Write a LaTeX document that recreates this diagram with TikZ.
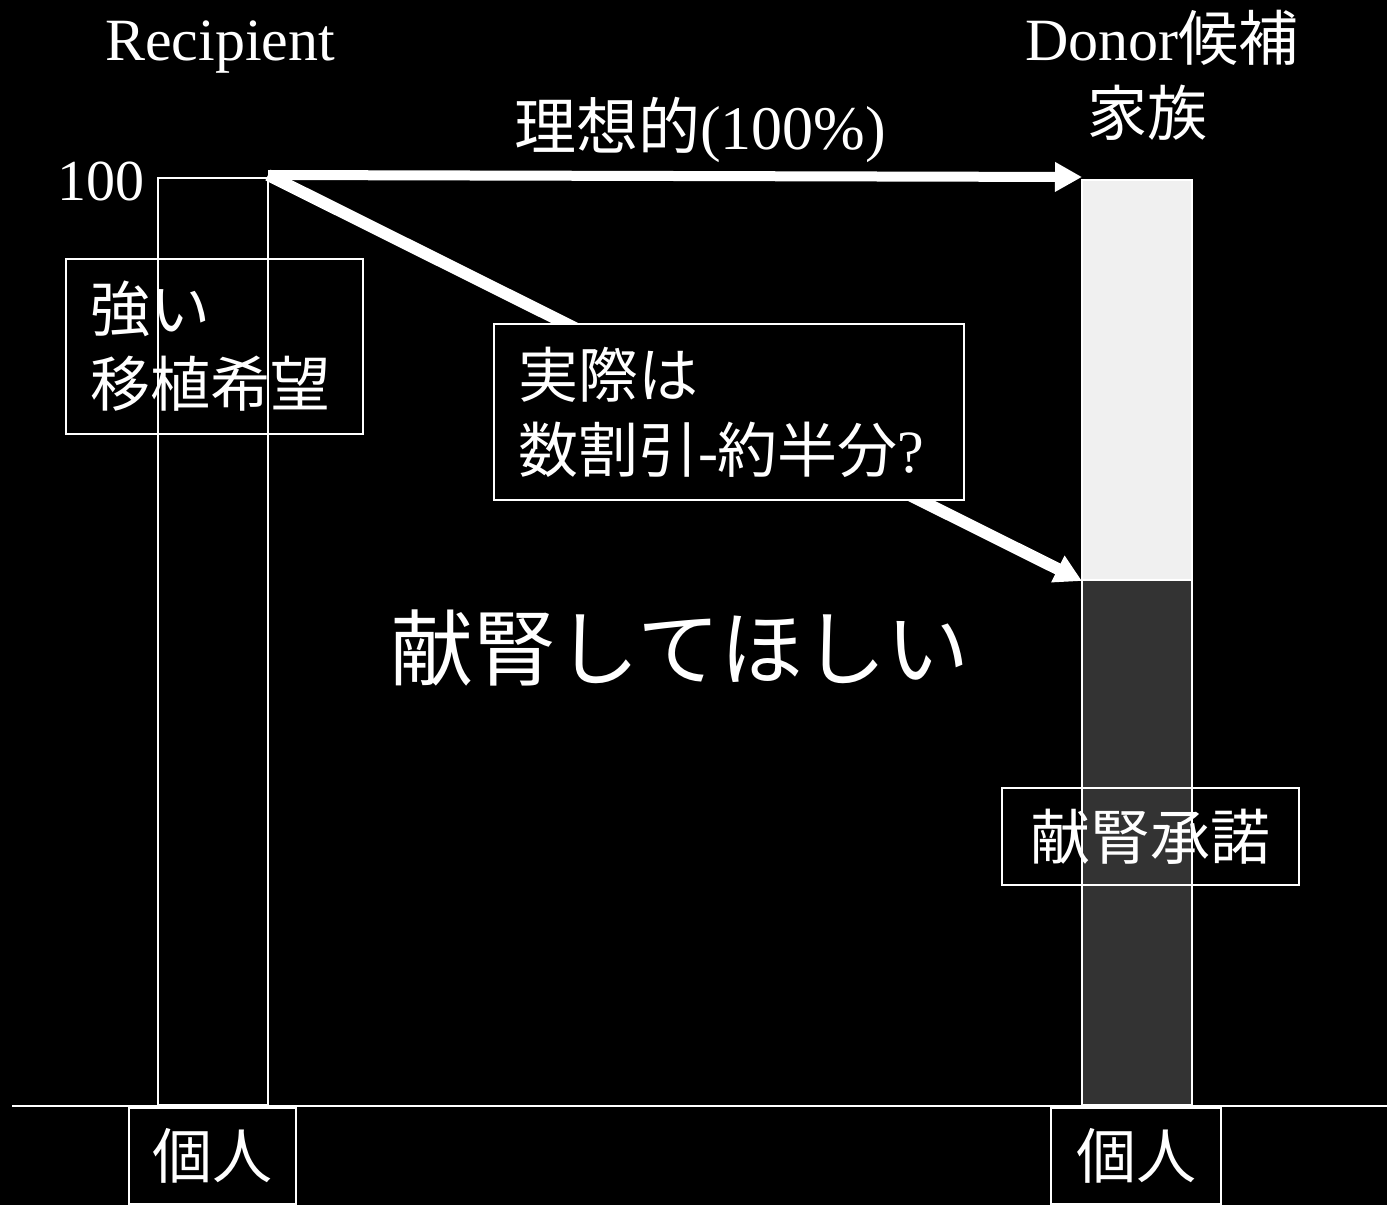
\documentclass[tikz,border=0pt]{standalone}
\usepackage{fontspec}
\setmainfont{Liberation Serif}
\newfontfamily\jp{Noto Sans CJK JP}
\usetikzlibrary{arrows.meta}
\begin{document}
\begin{tikzpicture}[x=1pt,y=-1pt,
  wl/.style={draw=white,line width=2pt},
  txt/.style={text=white,inner sep=0pt},
  boxed/.style={draw=white,line width=2pt,text=white,inner sep=0pt,align=left},
  bigarrow/.style={draw=white,line width=10pt,-{Triangle[length=27pt,width=28pt]}},
  f60/.style={font=\fontsize{60}{75}\selectfont},
]
\fill[black] (0,0) rectangle (1387,1205);
\useasboundingbox (0,0) rectangle (1387,1205);

% headings
\node[txt,f60,anchor=base] (rec) at (220,60) {Recipient};
\node[txt,f60,anchor=base] (don) at (1162,60) {Donor{\jp 候補}};
\node[txt,f60] (fam) at (1147,113) {\jp 家族};
\node[txt,font=\fontsize{62}{70}\selectfont] (ideal) at (700,130) {{\jp 理想的}(100\%)};
\node[txt,font=\fontsize{58}{60}\selectfont,anchor=base] (hund) at (101,200) {100};

% bars
\node[wl,inner sep=0pt,outer sep=0pt,minimum width=110pt,minimum height=927pt,anchor=north west] (lbar) at (158,178) {};
\node[draw=white,line width=2pt,fill=black!6,inner sep=0pt,outer sep=0pt,minimum width=110pt,minimum height=400pt,anchor=north west] (rtop) at (1082,180) {};
\node[draw=white,line width=2pt,fill=black!80,inner sep=0pt,outer sep=0pt,minimum width=110pt,minimum height=525pt,anchor=north west] (rbot) at (1082,580) {};

% axis
\coordinate (axl) at (12,1106);
\coordinate (axr) at (1387,1106);
\draw[wl] (axl) -- (axr);

% arrows
\draw[bigarrow] ([yshift=3pt]lbar.north east) -- ([yshift=3pt]rtop.north west);
\draw[bigarrow,line width=12pt] ([yshift=3pt]lbar.north east) -- ([yshift=-1pt]rtop.south west);

% boxes
\node[boxed,f60,inner xsep=24pt,text width=249pt,minimum height=175pt,anchor=north west] (wish) at (65,258) {{\jp 強い}\\{\jp 移植希望}};
\node[boxed,f60,fill=black,inner xsep=24pt,text width=422pt,minimum height=176pt,anchor=north west] (real) at (493,323) {{\jp 実際は}\\{\jp 数割引}-{\jp 約半分}?};
\node[txt,font=\fontsize{83}{90}\selectfont\jp] (want) at (680,648) {献腎してほしい};
\node[boxed,f60,minimum width=297pt,minimum height=97pt,anchor=north west] (consent) at (1001,787) {\jp 献腎承諾};
\node[boxed,f60,minimum width=167pt,minimum height=96pt,anchor=north west] (indL) at (128,1107) {\jp 個人};
\node[boxed,f60,minimum width=170pt,minimum height=96pt,anchor=north west] (indR) at (1050,1107) {\jp 個人};
\end{tikzpicture}
\end{document}
